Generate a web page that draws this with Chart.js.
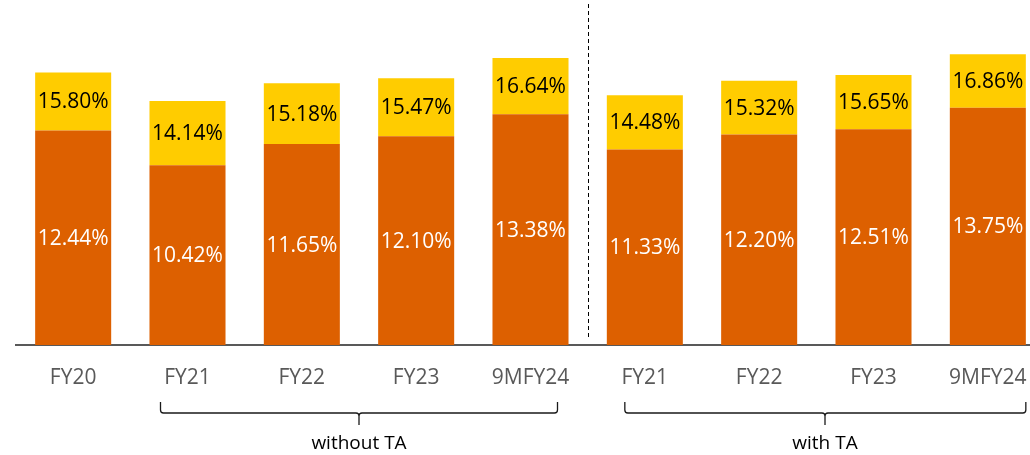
<!DOCTYPE html>
<html>
<head>
<meta charset="utf-8">
<title>Chart</title>
<script src="https://cdn.jsdelivr.net/npm/chart.js@4.4.1/dist/chart.umd.min.js"></script>
<style>
    html, body { margin: 0; padding: 0; background: #fff; overflow: hidden; }
    #wrap { width: 1050px; height: 455px; position: relative; }
</style>
</head>
<body>
<div id="wrap"><canvas id="margin-chart"></canvas></div>
<script>
    "use strict";

    // Data
    var categories = ["FY20", "FY21", "FY22", "FY23", "9MFY24", "FY21", "FY22", "FY23", "9MFY24"];
    var baseValues = [12.44, 10.42, 11.65, 12.10, 13.38, 11.33, 12.20, 12.51, 13.75];
    var totalValues = [15.80, 14.14, 15.18, 15.47, 16.64, 14.48, 15.32, 15.65, 16.86];
    var groupNames = ["without TA", "with TA"];
    var groupStart = [1, 5];
    var groupEnd = [4, 8];

    var topValues = totalValues.map(function (t, i) {
        return +(t - baseValues[i]).toFixed(2);
    });

    var FONT = "'Open Sans', 'Liberation Sans', sans-serif";


    // Labels inside bars
    var barLabels = {
        id: "barLabels",
        afterDatasetsDraw: function (chart) {
            var ctx = chart.ctx;
            ctx.save();
            ctx.font = "21px " + FONT;
            ctx.textAlign = "center";
            ctx.textBaseline = "middle";
            chart.data.datasets.forEach(function (ds, di) {
                var meta = chart.getDatasetMeta(di);
                var vals = di === 0 ? baseValues : totalValues;
                ctx.fillStyle = di === 0 ? "#ffffff" : "#000000";
                meta.data.forEach(function (bar, i) {
                    var p = bar.getProps(["x", "y", "base"], true);
                    ctx.fillText(vals[i].toFixed(2) + "%", p.x, (p.y + p.base) / 2 + 1);
                });
            });
            ctx.restore();
        }
    };


    // Divider and group brackets
    var groups = {
        id: "groups",
        afterDraw: function (chart) {
            var ctx = chart.ctx;
            var x = chart.scales.x;
            var area = chart.chartArea;
            var padLeft = [27, 20];
            var padRight = [27, 38];

            ctx.save();
            ctx.strokeStyle = "#000000";
            ctx.lineWidth = 1;
            ctx.setLineDash([4, 3]);
            var divX = Math.round((x.getPixelForValue(4) + x.getPixelForValue(5)) / 2) + 0.5;
            ctx.beginPath();
            ctx.moveTo(divX, area.top + 4);
            ctx.lineTo(divX, area.bottom - 5);
            ctx.stroke();
            ctx.setLineDash([]);

            var yTop = area.bottom + 57, yMid = area.bottom + 68, yTip = area.bottom + 80;
            ctx.lineWidth = 1.3;
            ctx.strokeStyle = "#1a1a1a";
            groupNames.forEach(function (name, g) {
                var left = x.getPixelForValue(groupStart[g]) - padLeft[g];
                var right = x.getPixelForValue(groupEnd[g]) + padRight[g];
                var mid = Math.round((left + right) / 2);
                ctx.beginPath();
                ctx.moveTo(left, yTop);
                ctx.lineTo(left, yMid - 3);
                ctx.quadraticCurveTo(left, yMid, left + 3, yMid);
                ctx.lineTo(mid - 3, yMid);
                ctx.quadraticCurveTo(mid, yMid, mid, yMid + 3);
                ctx.lineTo(mid, yTip);
                ctx.moveTo(mid, yMid + 3);
                ctx.quadraticCurveTo(mid, yMid, mid + 3, yMid);
                ctx.lineTo(right - 3, yMid);
                ctx.quadraticCurveTo(right, yMid, right, yMid - 3);
                ctx.lineTo(right, yTop);
                ctx.stroke();

                ctx.fillStyle = "#000000";
                ctx.font = "19px " + FONT;
                ctx.textAlign = "center";
                ctx.textBaseline = "middle";
                ctx.fillText(name, mid, area.bottom + 99);
            });
            ctx.restore();
        }
    };


    // Chart
    var ctx1 = document.getElementById("margin-chart").getContext("2d");
    var myChart1 = new Chart(ctx1, {
        type: "bar",
        data: {
            labels: categories,
            datasets: [{
                    label: "base",
                    data: baseValues,
                    backgroundColor: "#DD6000",
                    barPercentage: 0.665,
                    categoryPercentage: 1
                },
                {
                    label: "total",
                    data: topValues,
                    backgroundColor: "#FFCC00",
                    barPercentage: 0.665,
                    categoryPercentage: 1
                }
            ]
        },
        options: {
            responsive: true,
            maintainAspectRatio: false,
            animation: false,
            devicePixelRatio: 1,
            layout: {
                padding: { left: 16, right: 5, top: 0, bottom: 0 }
            },
            plugins: {
                legend: { display: false },
                tooltip: { enabled: false }
            },
            scales: {
                x: {
                    stacked: true,
                    grid: { display: false, drawTicks: false },
                    border: { display: true, color: "#595959", width: 2 },
                    ticks: {
                        color: "#595959",
                        font: { family: FONT, size: 21 },
                        padding: 20,
                        autoSkip: false,
                        maxRotation: 0
                    },
                    afterFit: function (scale) {
                        scale.height = 110;
                    }
                },
                y: {
                    stacked: true,
                    display: false,
                    min: 0,
                    max: 20
                }
            }
        },
        plugins: [barLabels, groups]
    });
</script>
</body>
</html>
